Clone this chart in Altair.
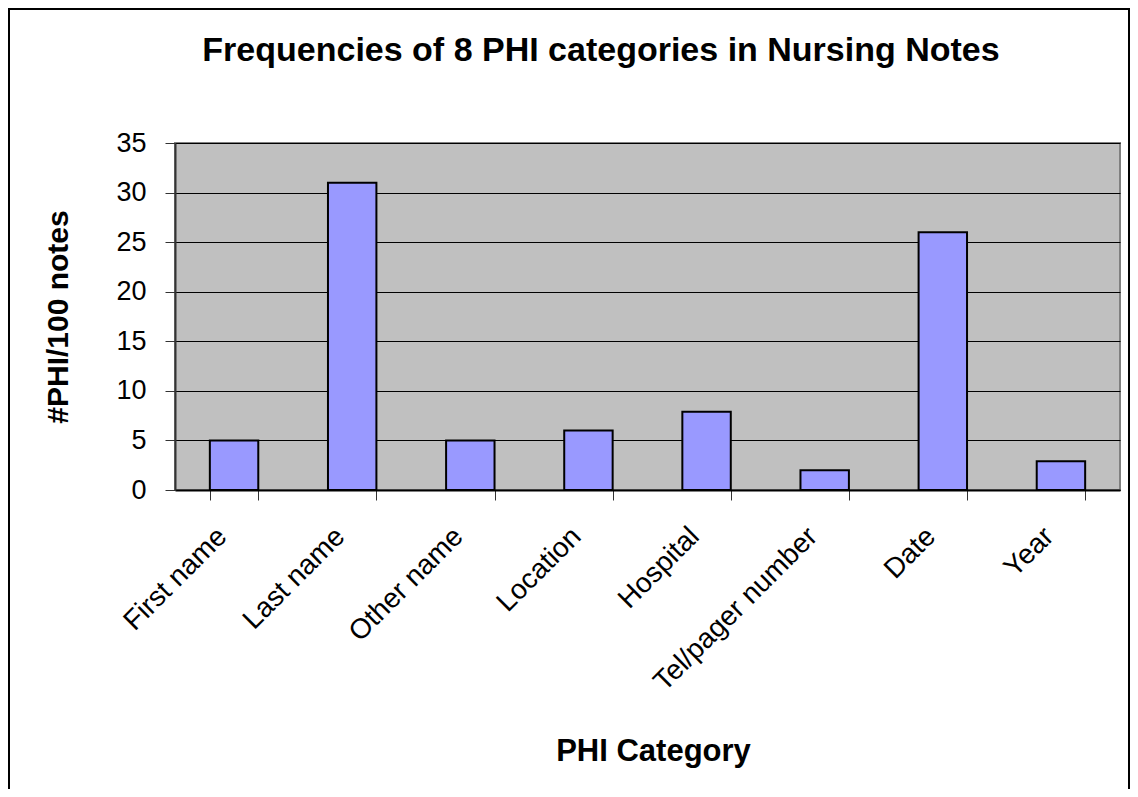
import altair as alt
import pandas as pd

categories = ["First name", "Last name", "Other name", "Location", "Hospital",
              "Tel/pager number", "Date", "Year"]
values = [5, 31, 5, 6, 7.9, 2, 26, 2.9]
title_text = "Frequencies of 8 PHI categories in Nursing Notes"

df = pd.DataFrame({"category": categories, "value": values})
one = pd.DataFrame({"label": [title_text]})

FONT = "Liberation Sans"
W, H = 945, 347
PAD = {"left": 167, "top": 135, "right": 10, "bottom": 299}

bars = alt.Chart(df).mark_bar(
    fill="#9999FF", stroke="black", strokeWidth=2
).encode(
    x=alt.X("category:N", sort=categories,
            scale=alt.Scale(paddingInner=0.59, paddingOuter=0.295),
            axis=alt.Axis(title="PHI Category", labelAngle=-45, labelAlign="right",
                          labelBaseline="middle", labelFontSize=28, labelFont=FONT,
                          labelColor="black", labelPadding=32, labelOffset=-12,
                          labelLimit=0, labelOverlap=False,
                          titleFontSize=31, titleFont=FONT, titleFontWeight="bold",
                          titleColor="black", titleBaseline="alphabetic",
                          titleX=478, titleY=270, titleAlign="center",
                          tickBand="extent", tickSize=10, tickColor="#333333",
                          domainColor="black", domainWidth=2, grid=False)),
    y=alt.Y("value:Q", scale=alt.Scale(domain=[0, 35], nice=False),
            axis=alt.Axis(title="#PHI/100 notes", values=[0, 5, 10, 15, 20, 25, 30, 35],
                          labelFontSize=27, labelFont=FONT, labelColor="black",
                          labelPadding=19, tickSize=10, tickColor="#333333",
                          domainColor="#333333", domainWidth=2,
                          grid=True, gridColor="black", gridWidth=1, gridOpacity=1,
                          titleFontSize=30, titleFont=FONT, titleFontWeight="bold",
                          titleColor="black", titleBaseline="middle",
                          titleX=-117, titleY=173.5, titleAngle=270,
                          titleAlign="center")),
)

title = alt.Chart(one).mark_text(
    font=FONT, fontSize=34, fontWeight="bold", color="black",
    align="center", baseline="alphabetic", clip=False
).encode(
    x=alt.value(426), y=alt.value(-82), text="label:N"
)

frame = alt.Chart(one).mark_rect(
    fill=None, stroke="black", strokeWidth=2, clip=False
).encode(
    x=alt.value(-166), x2=alt.value(W + 9),
    y=alt.value(-134), y2=alt.value(H + 320),
)

chart = alt.layer(bars, title, frame).properties(
    width=W, height=H,
    autosize=alt.AutoSizeParams(type="none"),
    padding=PAD,
    background="white",
).configure_view(fill="#C0C0C0", stroke="#808080", strokeWidth=2)

chart.save("out.html", embed_options={"renderer": "svg", "actions": False})
